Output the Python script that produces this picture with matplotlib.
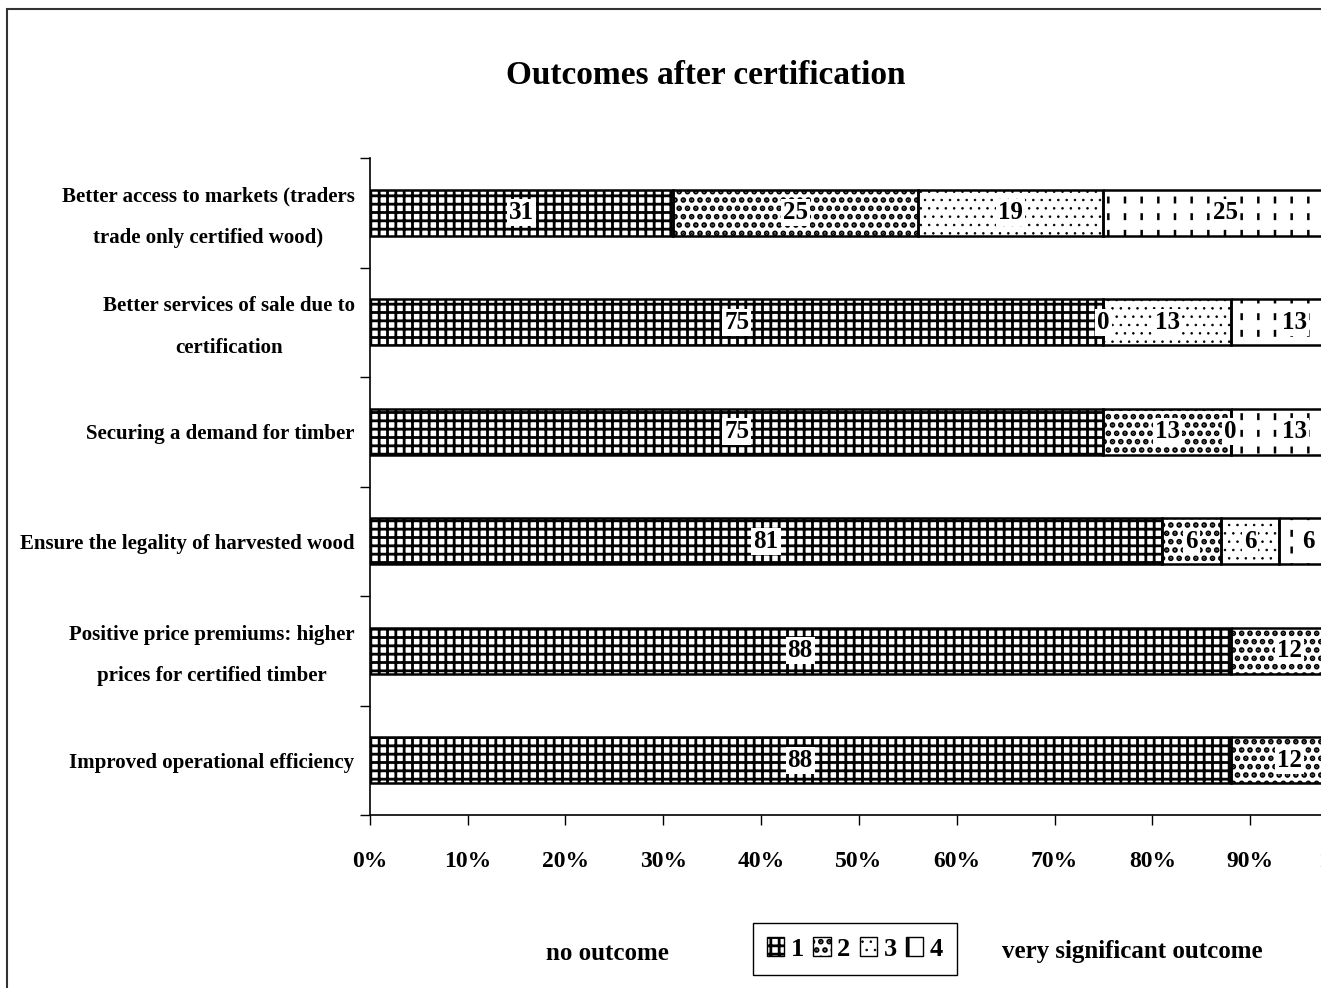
import numpy as np
import matplotlib.pyplot as plt
from matplotlib.patches import Rectangle

plt.rcParams['font.family'] = ['Liberation Serif', 'DejaVu Serif']
plt.rcParams['font.weight'] = 'bold'

categories = [
    "Better access to markets (traders\ntrade only certified wood)",
    "Better services of sale due to\ncertification",
    "Securing a demand for timber",
    "Ensure the legality of harvested wood",
    "Positive price premiums: higher\nprices for certified timber",
    "Improved operational efficiency",
]
s1 = [31, 75, 75, 81, 88, 88]
s2 = [25, 0, 13, 6, 12, 12]
s3 = [19, 13, 0, 6, 0, 0]
s4 = [25, 13, 13, 6, 0, 0]
series = [s1, s2, s3, s4]
series_names = ["1", "2", "3", "4"]
hatches = ["++", "..", "..", "|"]
hatch_lw = [2.0, 2.8, 0.6, 1.8]
x_ticks = list(range(0, 101, 10))


def set_hlw(patches, lw):
    for p in patches:
        if hasattr(p, "set_hatch_linewidth"):
            p.set_hatch_linewidth(lw)


def hatched_barh(ax, y, w, left, hatch, color, lw, z):
    bars = ax.barh(y, w, left=left, height=0.42, facecolor="none",
                   edgecolor=color, linewidth=0, hatch=hatch, zorder=z)
    set_hlw(bars, lw)
    return bars


fig = plt.figure(figsize=(13.21, 9.88), dpi=100)
ax = fig.add_axes([0.280, 0.175, 0.7404, 0.665])

y = np.arange(len(categories))
left = np.zeros(len(categories))
for i, vals in enumerate(series):
    vals = np.array(vals, dtype=float)
    ax.barh(y, vals, left=left, height=0.42, color="white", linewidth=0, zorder=1)
    hatched_barh(ax, y, vals, left, hatches[i], "black", hatch_lw[i], 1.2)
    if i == 3:
        # break the vertical lines into dashes
        hatched_barh(ax, y, vals, left, "-", "white", 7, 1.3)
    ax.barh(y, vals, left=left, height=0.42, facecolor="none",
            edgecolor="black", linewidth=1.8, zorder=1.5)
    for yy, l, v in zip(y, left, vals):
        ax.text(l + v / 2, yy, f"{int(v)}", ha="center", va="center",
                fontsize=18, zorder=3,
                bbox=dict(facecolor="white", edgecolor="none", pad=1.5))
    left += vals

ax.set_xlim(0, 100)
ax.set_ylim(len(categories) - 0.5, -0.5)
ax.set_xticks(x_ticks)
ax.set_xticklabels([f"{t}%" for t in x_ticks], fontsize=17)
ax.tick_params(axis="x", length=7, width=1, pad=19)

# tick marks sit between categories, labels at the bar centres
ax.set_yticks(np.arange(-0.5, len(categories), 1))
ax.set_yticklabels([])
label_pos = [yy - 0.08 if "\n" in c else yy for yy, c in zip(y, categories)]
ax.set_yticks(label_pos, minor=True)
ax.set_yticklabels(categories, minor=True, fontsize=15, multialignment="center",
                   linespacing=2.45)
ax.tick_params(axis="y", which="major", length=7, width=1)
ax.tick_params(axis="y", which="minor", length=0, pad=11)

for s in ["top", "right"]:
    ax.spines[s].set_visible(False)
ax.spines["left"].set_linewidth(1.2)
ax.spines["bottom"].set_linewidth(1.2)

fig.text(706 / 1321, 1 - 75 / 988, "Outcomes after certification",
         ha="center", va="center", fontsize=24)
fig.text(607 / 1321, 1 - 953 / 988, "no outcome", ha="center", va="center", fontsize=18)
fig.text(1132 / 1321, 1 - 951 / 988, "very significant outcome",
         ha="center", va="center", fontsize=18)

handles = [Rectangle((0, 0), 1, 1, facecolor="white", edgecolor="black",
                     linewidth=1, hatch=h) for h in hatches]
leg = fig.legend(handles, series_names, loc="center",
                 bbox_to_anchor=(855 / 1321, 1 - 949 / 988), ncol=4,
                 fontsize=19, fancybox=False, edgecolor="black",
                 handlelength=0.65, handleheight=0.75, handletextpad=0.25,
                 columnspacing=0.35, borderpad=0.55, borderaxespad=0,
                 framealpha=1)
leg.get_frame().set_linewidth(1)
for p, lw in zip(leg.get_patches(), hatch_lw):
    set_hlw([p], lw)

border = Rectangle((7 / 1321, -0.5), 2, 1.5 - 9 / 988, transform=fig.transFigure,
                   fill=False, edgecolor="#333333", linewidth=1.5, clip_on=False)
fig.add_artist(border)

fig.savefig("out.png", dpi=100)
